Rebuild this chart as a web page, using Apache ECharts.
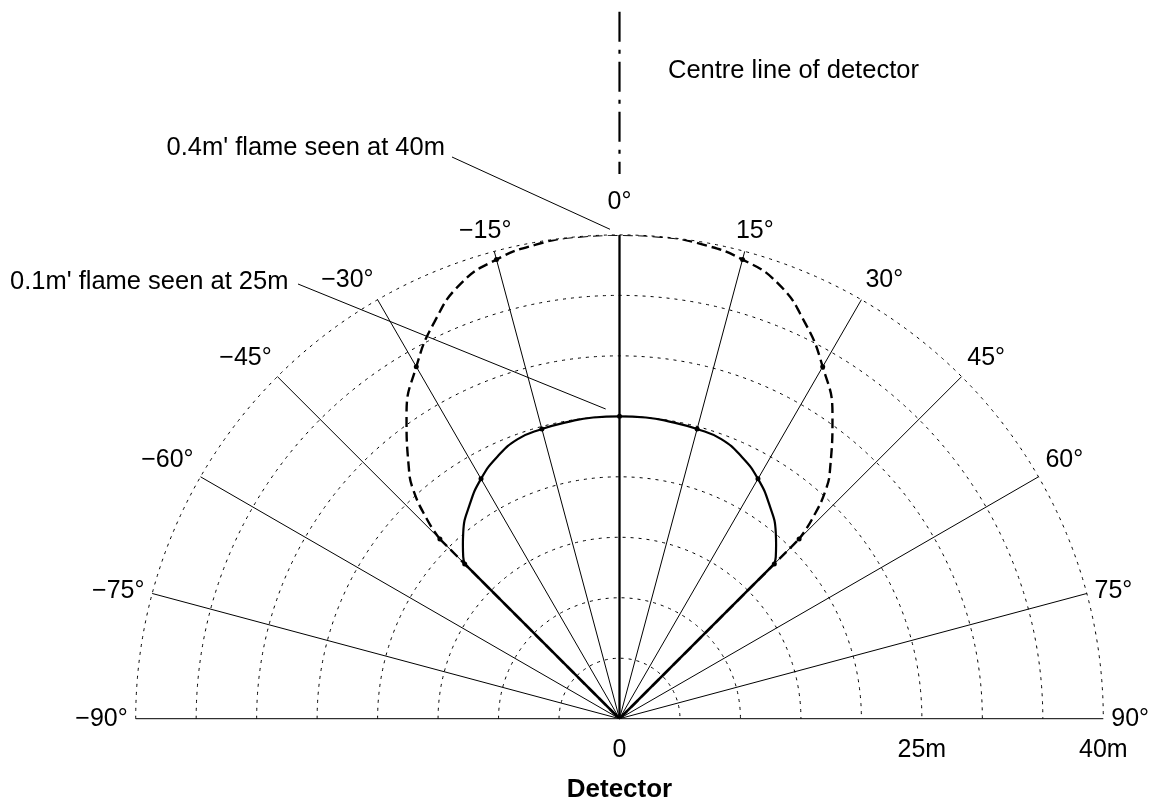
<!DOCTYPE html>
<html>
<head>
<meta charset="utf-8">
<script src="https://cdn.jsdelivr.net/npm/echarts@6/dist/echarts.min.js"></script>
<style>
html,body{margin:0;padding:0;background:#fff;}
#c{width:1152px;height:804px;}
</style>
</head>
<body>
<div id="c"></div>
<script>
// ---- data (angle in degrees from the detector centre line, distance in metres) ----
const angles   = [-45,-44,-42,-40,-35,-30,-25,-20,-15,-10,-5,0,5,10,15,20,25,30,35,40,42,44,45];
const flame04m = [21.0,22.9,25.5,27.1,30.7,33.6,36.2,38.3,39.3,39.8,40.0,40.0,40.0,39.8,39.3,38.3,36.2,33.6,30.7,27.1,25.5,22.9,21.0];
const flame01m = [18.1,18.6,19.35,20.1,21.6,22.9,23.9,24.6,24.8,24.9,25.0,25.0,25.0,24.9,24.8,24.6,23.9,22.9,21.6,20.1,19.35,18.6,18.1];
const angleMin = -90, angleMax = 90, angleStep = 15;
const radiusMax = 40, radiusStep = 5;
const distanceLabelValues = [0, 25, 40];
const distanceLabelTexts  = ['0', '25m', '40m'];
const annotationTexts = ['Centre line of detector', "0.4m' flame seen at 40m", "0.1m' flame seen at 25m", 'Detector'];

const LABELFONT = '"Liberation Sans",Arial,Helvetica,sans-serif';
const SANS = '"Liberation Sans",Arial,Helvetica,sans-serif';

function pairs(rs, as) { return rs.map((r, i) => [r, as[i]]); }
function edges(rs, as) { const n = rs.length - 1; return [[rs[0], as[0]], [0, 0], [rs[n], as[n]]]; }
function dotSize(v) { return (v[1] % angleStep === 0) ? 5 : 0; }
function angleLabel(v) {
  const t = (v < 0 ? '\u2212' + (-v) : String(v)) + '°';
  if (v === 0) return '{top|' + t + '}';
  if (v === 15) return '{r15|' + t + '}';
  if (v === -15) return '{l15|' + t + '}';
  return t;
}
const labelRich = {
  top: { fontSize: 25, fontFamily: LABELFONT, color: '#000', padding: [0, 0, 12, 0] },
  r15: { fontSize: 25, fontFamily: LABELFONT, color: '#000', padding: [0, 0, 0, 16] },
  l15: { fontSize: 25, fontFamily: LABELFONT, color: '#000', padding: [0, 14, 0, 0] }
};

const chart = echarts.init(document.getElementById('c'), null, {renderer: 'canvas'});
const option = {
  animation: false,
  backgroundColor: '#fff',
  polar: { center: [619.5, 718.7], radius: 483.8 },
  angleAxis: {
    type: 'value', min: angleMin, max: angleMax, interval: angleStep,
    startAngle: 180, endAngle: 0, clockwise: true,
    axisLine: { show: false }, axisTick: { show: false },
    axisLabel: {
      margin: 8, fontSize: 25, fontFamily: LABELFONT, color: '#000',
      formatter: angleLabel, rich: labelRich
    },
    splitLine: { show: true, lineStyle: { color: '#000', width: 1, type: 'solid' } }
  },
  radiusAxis: {
    type: 'value', min: 0, max: radiusMax, interval: radiusStep,
    axisLine: { show: false }, axisTick: { show: false }, axisLabel: { show: false },
    splitLine: { show: true, lineStyle: { color: '#000', width: 1, type: [3, 5] } }
  },
  grid: { left: 135.7, right: 48.7, top: 690, bottom: 85.3 },
  xAxis: {
    type: 'value', min: -radiusMax, max: radiusMax, interval: radiusStep,
    axisLine: { show: false }, axisTick: { show: false }, splitLine: { show: false },
    axisLabel: {
      margin: 19, fontSize: 25, fontFamily: LABELFONT, color: '#000',
      showMinLabel: true, showMaxLabel: true,
      formatter: v => { const i = distanceLabelValues.indexOf(v); return i < 0 ? '' : distanceLabelTexts[i]; }
    }
  },
  yAxis: { type: 'value', show: false, min: 0, max: 1 },
  series: [
    { name: 'centre', type: 'line', coordinateSystem: 'polar', data: [[0, 0], [radiusMax, 0]],
      showSymbol: false, lineStyle: { color: '#000', width: 2.3 }, z: 3 },
    { name: "0.4m' edges", type: 'line', coordinateSystem: 'polar', data: edges(flame04m, angles),
      showSymbol: false, lineStyle: { color: '#000', width: 2.4, type: [10, 5] }, z: 3 },
    { name: "0.4m' flame", type: 'line', coordinateSystem: 'polar', data: pairs(flame04m, angles),
      smooth: 0.5, symbol: 'circle', symbolSize: dotSize, showAllSymbol: true,
      itemStyle: { color: '#000' }, lineStyle: { color: '#000', width: 2.4, type: [10, 5] }, z: 4 },
    { name: "0.1m' edges", type: 'line', coordinateSystem: 'polar', data: edges(flame01m, angles),
      showSymbol: false, lineStyle: { color: '#000', width: 2.5 }, z: 5 },
    { name: "0.1m' flame", type: 'line', coordinateSystem: 'polar', data: pairs(flame01m, angles),
      smooth: 0.5, symbol: 'circle', symbolSize: dotSize, showAllSymbol: true,
      itemStyle: { color: '#000' }, lineStyle: { color: '#000', width: 2.2 }, z: 5 }
  ],
  graphic: [
    { type: 'polyline', shape: { points: [[619.5, 11.7], [619.5, 174]] },
      style: { stroke: '#000', lineWidth: 2.2, lineDash: [30, 8, 4, 8] } },
    { type: 'text', x: 668, y: 71.3,
      style: { text: annotationTexts[0], font: '25.5px ' + SANS, fill: '#000', align: 'left', verticalAlign: 'middle' } },
    { type: 'text', x: 166.5, y: 148,
      style: { text: annotationTexts[1], font: '25.5px ' + SANS, fill: '#000', align: 'left', verticalAlign: 'middle' } },
    { type: 'line', shape: { x1: 452, y1: 157, x2: 610, y2: 229.3 }, style: { stroke: '#000', lineWidth: 1 } },
    { type: 'text', x: 10, y: 281.7,
      style: { text: annotationTexts[2], font: '25.5px ' + SANS, fill: '#000', align: 'left', verticalAlign: 'middle' } },
    { type: 'line', shape: { x1: 298, y1: 284, x2: 605.7, y2: 409 }, style: { stroke: '#000', lineWidth: 1 } },
    { type: 'text', x: 619.5, y: 790,
      style: { text: annotationTexts[3], font: 'bold 26px ' + SANS, fill: '#000', align: 'center', verticalAlign: 'middle' } }
  ]
};
chart.setOption(option);
</script>
</body>
</html>
